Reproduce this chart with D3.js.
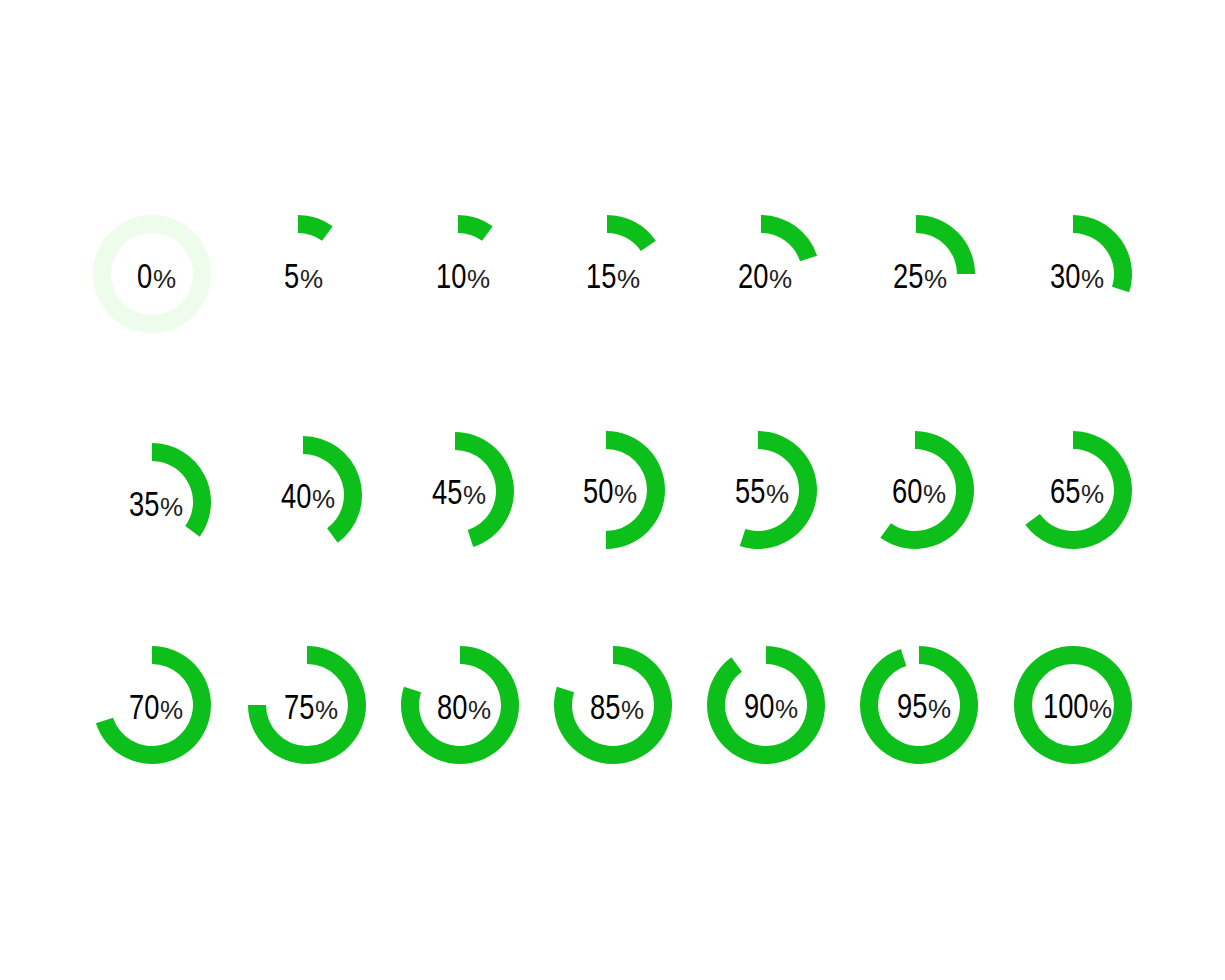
<!DOCTYPE html>
<html>
<head>
<meta charset="utf-8">
<script src="https://cdn.jsdelivr.net/npm/d3@7"></script>
<style>
  html, body { margin: 0; padding: 0; background: #fff; }
  text { font-family: "Liberation Sans", sans-serif; fill: #000; }
</style>
</head>
<body>
<div id="chart"></div>
<script>
// the number printed next to each ring
const labels = [0, 5, 10, 15, 20, 25, 30, 35, 40, 45, 50, 55, 60, 65, 70, 75, 80, 85, 90, 95, 100];
// how much of the ring is really filled (5 and 85 are drawn like 10 and 80)
const filled = [0, 10, 10, 15.5, 20, 25, 30, 35, 40, 45, 50, 55, 60, 65, 70, 75, 80, 80, 90, 95, 100];

// layout, the rings are not on a clean grid
const ringX = [152, 298, 458, 607, 761, 916, 1073, 152, 303, 455, 606, 758, 915, 1073, 152, 307, 460, 613, 766, 919, 1073];
const ringY = [274, 274, 274, 274, 274, 274, 274, 502, 495, 491, 490, 490, 490, 490, 705, 705, 705, 705, 705, 705, 705];
const textX = [137, 284, 436, 586, 738, 893, 1050, 129, 281, 432, 583, 735, 892, 1050, 129, 284, 437, 590, 744, 897, 1043];
const textY = [288, 288, 288, 288, 288, 288, 288, 516, 508, 504, 503, 503, 503, 503, 719, 719, 719, 719, 718, 718, 718];

const width = 1225;
const height = 980;
const outerRadius = 59;
const innerRadius = 41;
const green = "#0dbf1a";
const paleGreen = "#eefcec";
const digitWidth = 15;

const angle = d3.scaleLinear().domain([0, 100]).range([0, 2 * Math.PI]);
const arc = d3.arc().innerRadius(innerRadius).outerRadius(outerRadius).startAngle(0);

const svg = d3.select("#chart")
  .append("svg")
  .attr("width", width)
  .attr("height", height)
  .style("display", "block");

const rings = svg.selectAll("g.ring")
  .data(labels)
  .enter()
  .append("g")
  .attr("class", "ring");

// the 0 ring has nothing filled, so it shows the pale track instead
rings.append("path")
  .attr("transform", (d, i) => `translate(${ringX[i]},${ringY[i]})`)
  .attr("fill", (d, i) => (filled[i] === 0 ? paleGreen : green))
  .attr("d", (d, i) => arc({ endAngle: angle(filled[i] === 0 ? 100 : filled[i]) }));

rings.append("text")
  .attr("transform", (d, i) => `translate(${textX[i]},${textY[i]}) scale(0.78,1)`)
  .attr("font-size", 35)
  .text((d) => d);

rings.append("text")
  .attr("x", (d, i) => textX[i] + String(d).length * digitWidth + 1)
  .attr("y", (d, i) => textY[i])
  .attr("font-size", 26)
  .style("fill", "#222")
  .text("%");
</script>
</body>
</html>
